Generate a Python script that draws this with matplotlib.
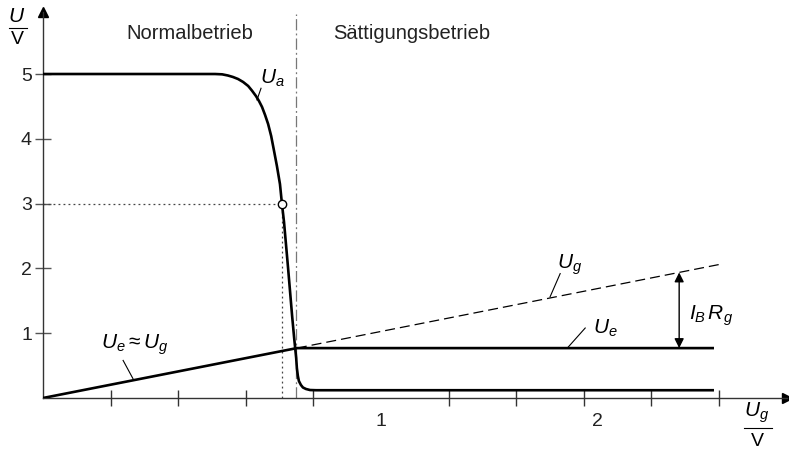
import matplotlib
matplotlib.use("Agg")
import matplotlib.pyplot as plt

plt.rcParams['font.family'] = ['Liberation Sans', 'DejaVu Sans']
plt.rcParams['mathtext.fontset'] = 'custom'
plt.rcParams['mathtext.rm'] = 'Liberation Sans'
plt.rcParams['mathtext.it'] = 'Liberation Sans:italic'

# Output voltage U_a over input voltage U_g (V)
ua_x = [0.0, 0.509, 0.530, 0.547, 0.562, 0.577, 0.592, 0.607, 0.618, 0.630,
        0.639, 0.648, 0.657, 0.666, 0.675, 0.683, 0.692, 0.701, 0.707,
        0.713, 0.719, 0.725, 0.731, 0.737, 0.743, 0.749, 0.751, 0.754,
        0.757, 0.763, 0.769, 0.778, 0.790, 0.808, 1.985]
ua_y = [5.0, 5.0, 4.995, 4.977, 4.954, 4.923, 4.877, 4.815, 4.745, 4.660,
        4.583, 4.491, 4.367, 4.228, 4.043, 3.827, 3.580, 3.302, 2.99,
        2.716, 2.361, 2.006, 1.636, 1.265, 0.926, 0.617, 0.463, 0.340,
        0.262, 0.201, 0.162, 0.139, 0.123, 0.12, 0.12]

# Emitter voltage U_e: follows U_g, then saturates
ue_x = [0.0, 0.751, 1.985]
ue_y = [0.0, 0.77, 0.77]

# Input voltage U_g (dashed continuation above the knee)
ug_x = [0.751, 2.0]
ug_y = [0.77, 2.06]

# Operating point and boundary between operating regions
op_x, op_y = 0.707, 3.0
boundary_x = 0.749
ibrg_x = 1.882

y_ticks = [1, 2, 3, 4, 5]
x_minor_ticks = [0.2, 0.4, 0.6, 0.8, 1.0, 1.2, 1.4, 1.6, 1.8, 2.0]
x_label_pos = [1.0, 1.64]
x_label_txt = ['1', '2']

xmax, ymax = 2.201, 5.957

fig = plt.figure(figsize=(7.89, 4.57), dpi=100)
ax = fig.add_axes([43/789, 59/457, 744/789, 386/457])
ax.set_xlim(0, xmax)
ax.set_ylim(0, ymax)
for s in ['top', 'right']:
    ax.spines[s].set_visible(False)
for s in ['left', 'bottom']:
    ax.spines[s].set_linewidth(1.0)
    ax.spines[s].set_color('#333333')

# axis arrows
ax.plot([0], [ymax], marker='^', color='black', markersize=7, clip_on=False)
ax.plot([xmax], [0], marker='>', color='black', markersize=7, clip_on=False)

ax.set_yticks(y_ticks)
ax.set_yticklabels([str(v) for v in y_ticks], fontsize=14, color='#222222')
ax.tick_params(axis='y', direction='inout', length=12, width=1.0, pad=2, color='#555555')
ax.set_xticks(x_minor_ticks, minor=True)
ax.set_xticks(x_label_pos)
ax.set_xticklabels(x_label_txt, fontsize=14, color='#222222')
ax.tick_params(axis='x', which='minor', direction='inout', length=11, width=1.0, color='#333333')
ax.tick_params(axis='x', which='major', length=0, pad=11)

# curves
ax.plot(ua_x, ua_y, color='black', lw=1.9, solid_capstyle='butt',
        solid_joinstyle='round', zorder=4)
ax.plot(ue_x, ue_y, color='black', lw=1.9, solid_capstyle='butt', zorder=4)
ax.plot(ug_x, ug_y, color='black', lw=0.9, dashes=(8, 4), zorder=3)

# boundary between normal and saturation operation
ax.plot([boundary_x, boundary_x], [0, 5.93], color='#777777', lw=0.9,
        dashes=(9, 2.5, 1.5, 2.5), zorder=2)

# operating point with dotted guides
ax.plot([0, op_x], [op_y, op_y], color='#444444', lw=0.9, ls=(0, (1.5, 2.5)), zorder=2)
ax.plot([op_x, op_x], [0, op_y], color='#444444', lw=0.9, ls=(0, (1.5, 2.5)), zorder=2)
ax.plot([op_x], [op_y], marker='o', markersize=6, markerfacecolor='white',
        markeredgecolor='black', markeredgewidth=1.0, zorder=5)

# I_B R_g double arrow
ibrg_top = ug_y[0] + (ibrg_x - ug_x[0]) * (ug_y[1] - ug_y[0]) / (ug_x[1] - ug_x[0])
ax.annotate('', xy=(ibrg_x, ibrg_top), xytext=(ibrg_x, ue_y[-1]),
            arrowprops=dict(arrowstyle='<|-|>', color='black', lw=1.0,
                            mutation_scale=14, shrinkA=0, shrinkB=0))
ax.text(1.91, 1.27, r'$I_B\,R_g$', fontsize=15, ha='left', va='center')

# region labels
ax.text(0.435, 5.63, 'Normalbetrieb', fontsize=14.5, ha='center', va='center', color='#222222')
ax.text(1.09, 5.63, 'Sättigungsbetrieb', fontsize=14.5, ha='center', va='center', color='#222222')

# curve labels with leader lines
ax.text(0.643, 4.93, r'$U_a$', fontsize=15, ha='left', va='center')
ax.plot([0.645, 0.633], [4.78, 4.60], color='black', lw=0.8)

ax.text(1.52, 2.05, r'$U_g$', fontsize=15, ha='left', va='center')
ax.plot([1.530, 1.500], [1.92, 1.56], color='black', lw=0.8)

ax.text(1.628, 1.08, r'$U_e$', fontsize=15, ha='left', va='center')
ax.plot([1.604, 1.551], [1.08, 0.77], color='black', lw=0.8)

ax.text(0.27, 0.82, r'$U_e \approx U_g$', fontsize=15, ha='center', va='center')
ax.plot([0.237, 0.266], [0.58, 0.30], color='black', lw=0.8)

# axis unit labels as fractions
fig.text(17/789, 1 - 17/457, r'$U$', fontsize=15, ha='center', va='center')
fig.lines.append(plt.Line2D([9/789, 27/789], [1 - 28/457, 1 - 28/457],
                            transform=fig.transFigure, color='black', lw=0.8))
fig.text(17/789, 1 - 39/457, 'V', fontsize=14, ha='center', va='center')

fig.text(757/789, 1 - 413/457, r'$U_g$', fontsize=15, ha='center', va='center')
fig.lines.append(plt.Line2D([744/789, 772/789], [1 - 428/457, 1 - 428/457],
                            transform=fig.transFigure, color='black', lw=0.8))
fig.text(757/789, 1 - 441/457, 'V', fontsize=14, ha='center', va='center')

fig.savefig('out.png', dpi=100)
